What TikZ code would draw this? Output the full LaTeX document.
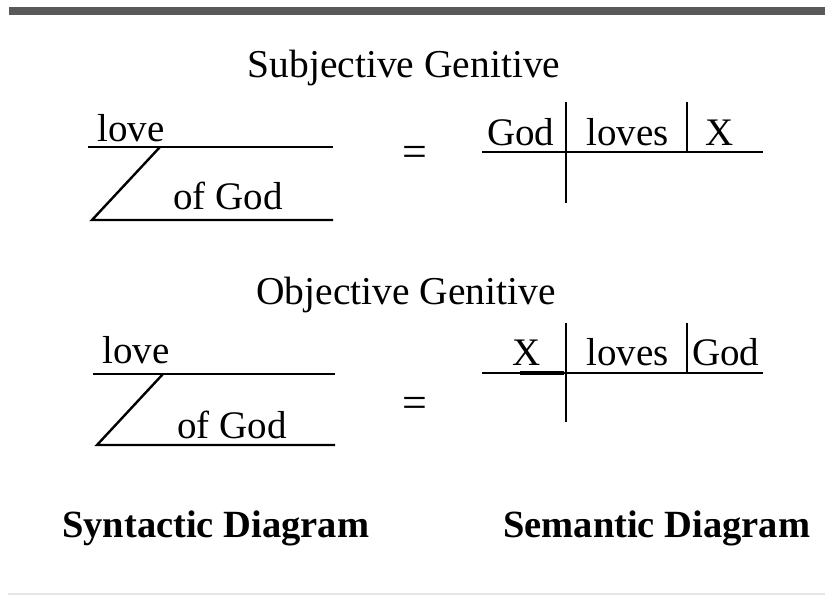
\documentclass[tikz,border=0pt]{standalone}
\usepackage{fontspec}
\setmainfont{Liberation Serif}
\begin{document}
\begin{tikzpicture}[x=1pt,y=-1pt,
  lbl/.style={inner sep=0pt,anchor=base west,font=\fontsize{39}{44}\selectfont},
  ttl/.style={inner sep=0pt,anchor=base,font=\fontsize{39.5}{44}\selectfont},
  captext/.style={inner sep=0pt,anchor=base west,font=\fontsize{38.5}{44}\selectfont\bfseries},
  ln/.style={line width=2.4pt,black},
  eqs/.style={inner sep=0pt,font=\fontsize{44}{48}\selectfont}]
\useasboundingbox (0,0) rectangle (825,596);
\fill[white] (0,0) rectangle (825,596);
% top bar and bottom rule
\coordinate (tb1) at (9,11.5); \coordinate (tb2) at (825,11.5);
\draw[line width=8pt,black!65] (tb1) -- (tb2);
\coordinate (bb1) at (8,594); \coordinate (bb2) at (825,594);
\draw[line width=1.2pt,black!10] (bb1) -- (bb2);
% titles
\node[ttl] (t1) at (404,78) {Subjective Genitive};
\node[ttl] (t2) at (406,305) {Objective Genitive};
% syntactic 1
\coordinate (a1) at (88,147); \coordinate (a2) at (333,147);
\coordinate (a3) at (160,147); \coordinate (a4) at (92,220); \coordinate (a5) at (333,220);
\draw[ln] (a1) -- (a2);
\draw[ln,line join=miter] (a3) -- (a4) -- (a5);
\node[lbl] (love1) at (97,142) {love};
\node[lbl] (ofgod1) at (173,210) {of God};
% syntactic 2
\coordinate (b1) at (93,374); \coordinate (b2) at (335,374);
\coordinate (b3) at (163,374); \coordinate (b4) at (97,445); \coordinate (b5) at (335,445);
\draw[ln] (b1) -- (b2);
\draw[ln,line join=miter] (b3) -- (b4) -- (b5);
\node[lbl] (love2) at (102,363) {love};
\node[lbl] (ofgod2) at (177,438) {of God};
% equals
\node[eqs] (eq1) at (415,156) {=};
\node[eqs] (eq2) at (415,407) {=};
% semantic 1
\coordinate (c1) at (482,152); \coordinate (c2) at (763,152);
\coordinate (c3) at (566,102); \coordinate (c4) at (566,203);
\coordinate (c5) at (687,102); \coordinate (c6) at (687,152);
\draw[ln] (c1) -- (c2);
\draw[ln] (c3) -- (c4);
\draw[ln] (c5) -- (c6);
\node[lbl] (god1) at (487,146) {God};
\node[lbl] (loves1) at (586,146) {loves};
\node[lbl] (x1) at (705,146) {X};
% semantic 2
\coordinate (d1) at (482,373); \coordinate (d2) at (763,373);
\coordinate (d3) at (566,323); \coordinate (d4) at (566,422);
\coordinate (d5) at (687,323); \coordinate (d6) at (687,373);
\coordinate (d7) at (520,372.5); \coordinate (d8) at (564,372.5);
\draw[ln] (d1) -- (d2);
\draw[line width=4pt] (d7) -- (d8);
\draw[ln] (d3) -- (d4);
\draw[ln] (d5) -- (d6);
\node[lbl] (x2) at (512,365) {X};
\node[lbl] (loves2) at (586,365) {loves};
\node[lbl] (god2) at (692,365) {God};
% captions
\node[captext] (syn) at (62,537) {Syntactic Diagram};
\node[captext] (sem) at (503,537) {Semantic Diagram};
\end{tikzpicture}
\end{document}
